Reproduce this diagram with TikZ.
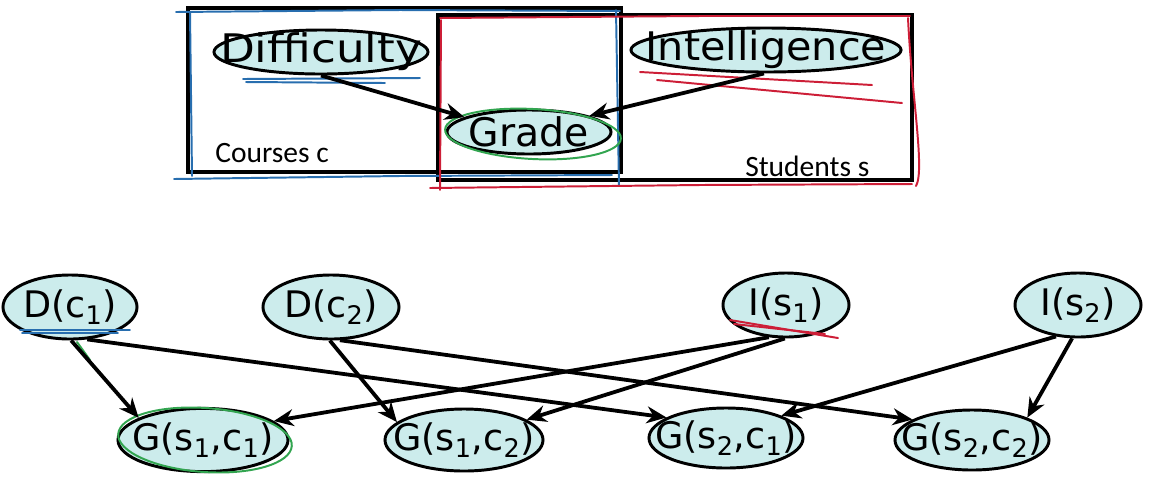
\documentclass[tikz,border=0pt]{standalone}
\usepackage{fontspec}
\setmainfont{DejaVu Sans}
\newfontfamily\labfont{Carlito}
\usetikzlibrary{shapes.geometric,arrows.meta}
\definecolor{nodefill}{RGB}{204,236,236}
\definecolor{penblue}{RGB}{40,110,175}
\definecolor{penred}{RGB}{205,30,55}
\definecolor{pengreen}{RGB}{50,165,80}
\tikzset{
  ell/.style={ellipse, draw=black, fill=nodefill, line width=2.1pt,
    inner xsep=-40pt, inner ysep=-20pt,
    font=\fontsize{26}{28}\selectfont},
  topell/.style={ell, font=\fontsize{28}{30}\selectfont},
  arr/.style={line width=2.7pt, -{Stealth[length=14pt,width=12pt]}},
  plate/.style={draw=black, line width=3.3pt},
  platelab/.style={font=\labfont\fontsize{21}{23}\selectfont, anchor=base west, inner sep=0pt},
  pen/.style={line width=1.4pt, line cap=round}
}
\begin{document}
\begin{tikzpicture}[x=0.025cm,y=-0.025cm]
\useasboundingbox (0,0) rectangle (1166,483);
% plates
\draw[plate] (188,8) rectangle (621,172);
\draw[plate] (438,15) rectangle (912,180);
% pen marks on plates
\draw[pen,penblue] (176,12) -- (400,10) -- (620,11);
\draw[pen,penblue] (190,12) -- (192,176);
\draw[pen,penblue] (174,179) -- (400,176) -- (612,175);
\draw[pen,penblue] (616,10) -- (619,186);
\draw[pen,penred] (440,18) -- (700,16) -- (910,16);
\draw[pen,penred] (441,20) -- (440,190);
\draw[pen,penred] (430,188) -- (700,185) -- (912,184);
\draw[pen,penred] (908,18) .. controls (912,100) and (925,170) .. (916,186);
\node[platelab] (courses) at (215,162) {Courses c};
\node[platelab] (students) at (745,176) {Students s};
% top nodes
\node[topell, minimum width=5.35cm, minimum height=1.1cm] (diff) at (321,52) {\scalebox{1.15}[1]{Difficulty}};
\node[topell, minimum width=6.75cm, minimum height=1.1cm] (intel) at (766,50) {\scalebox{1.05}[1]{Intelligence}};
\node[topell, minimum width=4.1cm, minimum height=1.1cm] (grade) at (529,132) {Grade};
\draw[pen,pengreen,rotate around={-3:(533,134)}] (533,134) ellipse [x radius=88, y radius=25];
\draw[pen,penblue] (243,79) -- (420,78);
\draw[pen,penblue] (246,82) -- (385,83);
\draw[pen,penred] (640,72) -- (872,85);
\draw[pen,penred] (657,80) -- (902,103);
\draw[arr] (diff.-90) -- (grade.167);
\draw[arr] (intel.-95) -- (grade.15);
% bottom nodes
\node[ell, minimum width=3.35cm, minimum height=1.6cm] (Dc1) at (70,307) {D(c\textsubscript{1})};
\node[ell, minimum width=3.4cm, minimum height=1.6cm] (Dc2) at (331,307) {D(c\textsubscript{2})};
\node[ell, minimum width=3.15cm, minimum height=1.6cm] (Is1) at (786,305) {I(s\textsubscript{1})};
\node[ell, minimum width=3.15cm, minimum height=1.6cm] (Is2) at (1078,305) {I(s\textsubscript{2})};
\node[ell, minimum width=4.25cm, minimum height=1.58cm] (G11) at (203,440) {G(s\textsubscript{1},c\textsubscript{1})};
\node[ell, minimum width=3.95cm, minimum height=1.55cm] (G12) at (464,440) {G(s\textsubscript{1},c\textsubscript{2})};
\node[ell, minimum width=3.85cm, minimum height=1.5cm] (G21) at (726,438) {G(s\textsubscript{2},c\textsubscript{1})};
\node[ell, minimum width=3.85cm, minimum height=1.5cm] (G22) at (972,440) {G(s\textsubscript{2},c\textsubscript{2})};
% pen marks on bottom
\draw[pen,penblue] (20,330) -- (130,330);
\draw[pen,penblue] (22,333) -- (118,333);
\draw[pen,pengreen] (77,342) -- (90,360);
\draw[pen,penred] (730,320) -- (838,338);
\draw[pen,penred] (734,324) -- (825,334);
\draw[pen,pengreen,rotate around={-4:(205,440)}] (205,440) ellipse [x radius=87, y radius=32];
% edges
\draw[arr] (Dc1.-88) -- (G11.161);
\draw[arr] (Dc1.-62) -- (G21.161);
\draw[arr] (Dc2.-92) -- (G12.165);
\draw[arr] (Dc2.-75) -- (G22.161);
\draw[arr] (Is1.-118) -- (G11.15);
\draw[arr] (Is1.-92) -- (G12.18);
\draw[arr] (Is2.-125) -- (G21.22);
\draw[arr] (Is2.-100) -- (G22.22);
\end{tikzpicture}
\end{document}
